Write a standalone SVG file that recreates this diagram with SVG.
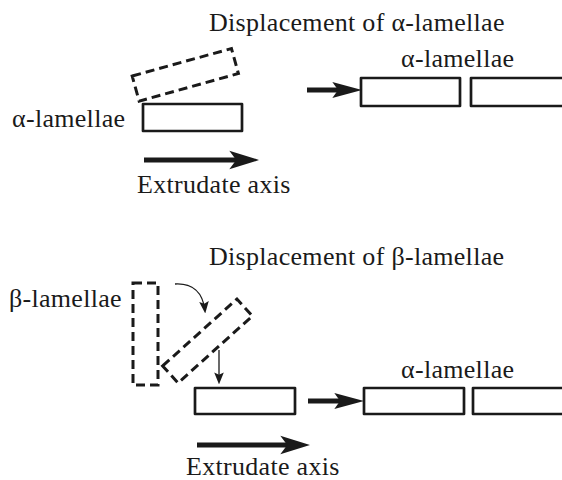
<svg xmlns="http://www.w3.org/2000/svg" width="562" height="480" viewBox="0 0 562 480">
<style>
text{font-family:"Liberation Serif","Times New Roman",serif;font-size:26px;letter-spacing:0.3px;fill:#1a1a1a}
.solid{fill:#fff;stroke:#1a1a1a;stroke-width:2.7;stroke-linejoin:round}
.dash{fill:none;stroke:#1a1a1a;stroke-width:3;stroke-dasharray:9 5}
.thick{stroke:#1a1a1a;stroke-width:5;fill:none}
.thin{stroke:#1a1a1a;stroke-width:1.3;fill:none}
</style>
<defs>
<marker id="big" markerUnits="userSpaceOnUse" markerWidth="30" markerHeight="20" viewBox="0 0 26 16" refX="11" refY="8" orient="auto">
<path d="M0,0 L26,8 L0,16 L6,8 z" fill="#1a1a1a"/>
</marker>
<marker id="mid" markerUnits="userSpaceOnUse" markerWidth="30" markerHeight="20" viewBox="0 0 26 14" refX="11" refY="7" orient="auto">
<path d="M0,0 L26,7 L0,14 L5,7 z" fill="#1a1a1a"/>
</marker>
<marker id="small" markerUnits="userSpaceOnUse" markerWidth="12" markerHeight="10" viewBox="0 0 10 8" refX="8" refY="4" orient="auto">
<path d="M0,0 L10,4 L0,8 L2,4 z" fill="#1a1a1a"/>
</marker>
</defs>

<g id="title-alpha"><text x="209" y="31">Displacement of α-lamellae</text></g>
<g id="alpha-displaced"><rect class="dash" x="-51.5" y="-13" width="103" height="26" transform="translate(185.3,74.8) rotate(-15.5)"/></g>
<g id="alpha-lamella-1"><text x="12" y="127">α-lamellae</text><rect class="solid" x="143" y="104" width="99" height="27"/></g>
<g id="axis-1"><text x="137" y="193">Extrudate axis</text></g>
<g id="alpha-row-1"><text x="401" y="67">α-lamellae</text>
<rect class="solid" x="361" y="78" width="99" height="28"/>
<rect class="solid" x="471" y="78" width="110" height="28"/></g>

<g id="title-beta"><text x="209" y="265">Displacement of β-lamellae</text></g>
<g id="beta-lamella"><text x="9" y="307">β-lamellae</text><rect class="dash" x="133" y="283" width="25" height="102"/></g>
<g id="beta-rotated"><rect class="dash" x="-50" y="-11.5" width="100" height="23" transform="translate(207.5,341) rotate(-42)"/></g>
<g id="alpha-lamella-2"><rect class="solid" x="195" y="388" width="100" height="26"/></g>
<g id="axis-2"><text x="186" y="475">Extrudate axis</text></g>
<g id="alpha-row-2"><text x="401" y="378">α-lamellae</text>
<rect class="solid" x="364" y="388" width="100" height="26"/>
<rect class="solid" x="473" y="388" width="110" height="26"/></g>

<g id="connectors">
<line class="thick" x1="144" y1="160" x2="242" y2="160" marker-end="url(#big)"/>
<line class="thick" x1="307" y1="90" x2="345" y2="90" marker-end="url(#mid)"/>
<line class="thick" x1="197" y1="445" x2="293" y2="445" marker-end="url(#big)"/>
<line class="thick" x1="308" y1="401" x2="347" y2="401" marker-end="url(#mid)"/>
<path class="thin" d="M175,284 C192,283 203,292 205,311" marker-end="url(#small)"/>
<line class="thin" x1="219" y1="350" x2="219" y2="382" marker-end="url(#small)"/>
</g>
</svg>
